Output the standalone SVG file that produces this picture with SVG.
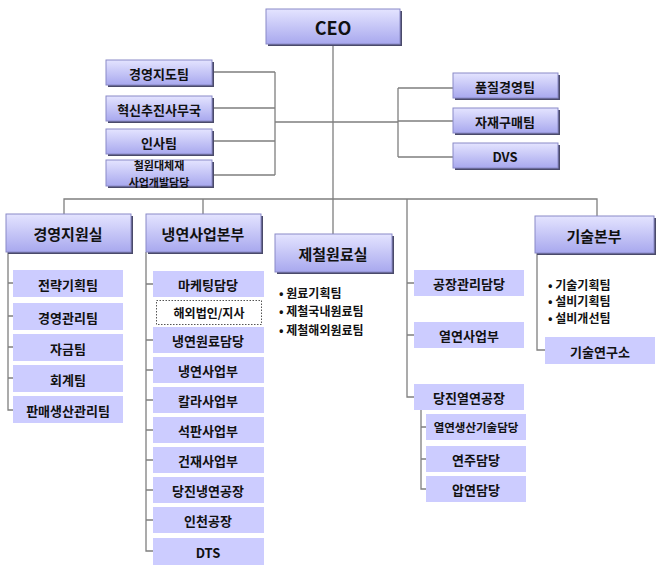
<svg xmlns="http://www.w3.org/2000/svg" width="663" height="579" viewBox="0 0 663 579">
<defs>
<linearGradient id="g" x1="0" y1="0" x2="0" y2="1"><stop offset="0" stop-color="#e4e4ff"/><stop offset="1" stop-color="#a8a8ee"/></linearGradient>
<style>
.b{fill:url(#g);stroke:#8a8ac8;stroke-width:1}
.s{fill:#4a4a6a}
.f{fill:#ccccff}
.w{fill:#fff;stroke:#555;stroke-width:1;stroke-dasharray:1.5 1.5}
.l{fill:none;stroke:#7f7f7f;stroke-width:1.3}
text{font-family:"Noto Sans CJK KR","Noto Sans",sans-serif;font-weight:bold;font-size:13px;fill:#111;text-anchor:middle;dominant-baseline:central}
.t{font-size:15px}
.c{font-size:18px}
.bl{text-anchor:start;font-size:12px}
</style>
</defs>
<rect width="663" height="579" fill="#fff"/>
<g id="connectors">
<path class="l" d="M333 44V234M275 72H212M275 108H212M275 141H212M275 175H212M275 72V175M275 122H398M398 88V157M398 88H453M398 121H453M398 157H453"/>
<path class="l" d="M64 214V199H597V216M203 199V214M407 199V397H414M407 283H414M407 335H414"/>
<path class="l" d="M8 252V410H13M8 283H13M8 316H13M8 347H13M8 378H13"/>
<path class="l" d="M146 252V551H153M146 284H153M146 340H153M146 370H153M146 400H153M146 430H153M146 460H153M146 490H153M146 520H153"/>
<path class="l" d="M421 410V489H426M421 427H426M421 459H426"/>
<path class="l" d="M537 253V350H545"/>
</g>
<g id="ceo"><rect class="s" x="268" y="11" width="134" height="35"/><rect class="b" x="266" y="9" width="134" height="35"/><text class="c" x="333" y="27">CEO</text></g>
<g id="n1"><rect class="s" x="108" y="62" width="106" height="25"/><rect class="b" x="106" y="60" width="106" height="25"/><text x="159" y="73">경영지도팀</text></g>
<g id="n2"><rect class="s" x="108" y="98" width="106" height="25"/><rect class="b" x="106" y="96" width="106" height="25"/><text x="159" y="109">혁신추진사무국</text></g>
<g id="n3"><rect class="s" x="108" y="131" width="106" height="25"/><rect class="b" x="106" y="129" width="106" height="25"/><text x="159" y="142">인사팀</text></g>
<g id="n4"><rect class="s" x="108" y="162" width="106" height="26"/><rect class="b" x="106" y="160" width="106" height="26"/><text x="159" y="165" style="font-size:11px">철원대체재</text><text x="159" y="182" style="font-size:11px">사업개발담당</text></g>
<g id="n5"><rect class="s" x="455" y="75" width="105" height="25"/><rect class="b" x="453" y="73" width="105" height="25"/><text x="505" y="86">품질경영팀</text></g>
<g id="n6"><rect class="s" x="455" y="110" width="105" height="25"/><rect class="b" x="453" y="108" width="105" height="25"/><text x="505" y="121">자재구매팀</text></g>
<g id="n7"><rect class="s" x="455" y="145" width="105" height="25"/><rect class="b" x="453" y="143" width="105" height="25"/><text x="505" y="156">DVS</text></g>
<g id="d1"><rect class="s" x="8" y="216" width="125" height="38"/><rect class="b" x="6" y="214" width="125" height="38"/><text class="t" x="68" y="233">경영지원실</text></g>
<g id="d2"><rect class="s" x="148" y="216" width="115" height="38"/><rect class="b" x="146" y="214" width="115" height="38"/><text class="t" x="203" y="233">냉연사업본부</text></g>
<g id="d3"><rect class="s" x="277" y="236" width="117" height="38"/><rect class="b" x="275" y="234" width="117" height="38"/><text class="t" x="333" y="253">제철원료실</text></g>
<g id="d3b"><text class="bl" x="279" y="292">• 원료기획팀</text><text class="bl" x="279" y="310">• 제철국내원료팀</text><text class="bl" x="279" y="329">• 제철해외원료팀</text></g>
<g id="d4"><rect class="s" x="537" y="218" width="119" height="37"/><rect class="b" x="535" y="216" width="119" height="37"/><text class="t" x="594" y="235">기술본부</text></g>
<g id="d4b"><text class="bl" x="548" y="284">• 기술기획팀</text><text class="bl" x="548" y="300">• 설비기획팀</text><text class="bl" x="548" y="317">• 설비개선팀</text></g>
<g id="a1"><rect class="f" x="13" y="270" width="110" height="27"/><text x="68" y="284">전략기획팀</text></g>
<g id="a2"><rect class="f" x="13" y="303" width="110" height="27"/><text x="68" y="317">경영관리팀</text></g>
<g id="a3"><rect class="f" x="13" y="334" width="110" height="27"/><text x="68" y="348">자금팀</text></g>
<g id="a4"><rect class="f" x="13" y="365" width="110" height="27"/><text x="68" y="379">회계팀</text></g>
<g id="a5"><rect class="f" x="13" y="396" width="110" height="27"/><text x="68" y="410">판매생산관리팀</text></g>
<g id="b1"><rect class="f" x="153" y="271" width="111" height="26"/><text x="208" y="284">마케팅담당</text></g>
<g id="b2"><rect class="w" x="156.5" y="300.5" width="105" height="24"/><text x="209" y="312" style="font-size:12px">해외법인/지사</text></g>
<g id="b3"><rect class="f" x="153" y="327" width="111" height="26"/><text x="208" y="340">냉연원료담당</text></g>
<g id="b4"><rect class="f" x="153" y="357" width="111" height="26"/><text x="208" y="370">냉연사업부</text></g>
<g id="b5"><rect class="f" x="153" y="387" width="111" height="26"/><text x="208" y="400">칼라사업부</text></g>
<g id="b6"><rect class="f" x="153" y="417" width="111" height="26"/><text x="208" y="430">석판사업부</text></g>
<g id="b7"><rect class="f" x="153" y="447" width="111" height="26"/><text x="208" y="460">건재사업부</text></g>
<g id="b8"><rect class="f" x="153" y="477" width="111" height="26"/><text x="208" y="490">당진냉연공장</text></g>
<g id="b9"><rect class="f" x="153" y="507" width="111" height="26"/><text x="208" y="520">인천공장</text></g>
<g id="b10"><rect class="f" x="153" y="538" width="111" height="27"/><text x="208" y="552">DTS</text></g>
<g id="c1"><rect class="f" x="414" y="270" width="110" height="26"/><text x="469" y="283">공장관리담당</text></g>
<g id="c2"><rect class="f" x="414" y="322" width="110" height="26"/><text x="469" y="335">열연사업부</text></g>
<g id="c3"><rect class="f" x="414" y="384" width="110" height="26"/><text x="469" y="397">당진열연공장</text></g>
<g id="c4"><rect class="f" x="426" y="414" width="100" height="26"/><text x="476" y="427" style="font-size:11.5px">열연생산기술담당</text></g>
<g id="c5"><rect class="f" x="426" y="446" width="100" height="26"/><text x="476" y="459">연주담당</text></g>
<g id="c6"><rect class="f" x="426" y="476" width="100" height="26"/><text x="476" y="489">압연담당</text></g>
<g id="e1"><rect class="f" x="545" y="337" width="110" height="27"/><text x="600" y="351">기술연구소</text></g>
</svg>
